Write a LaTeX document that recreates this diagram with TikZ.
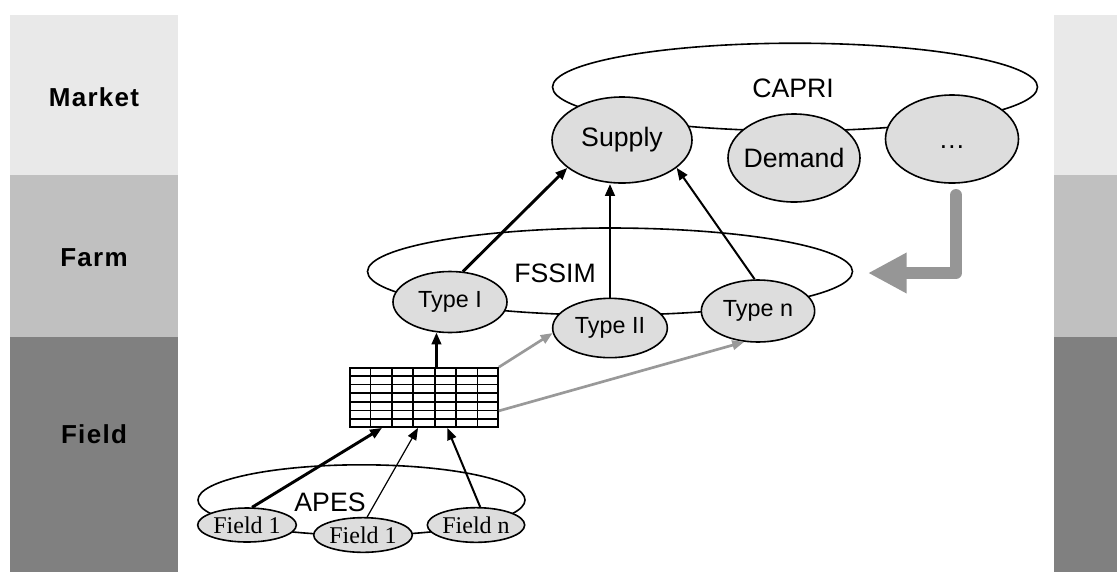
\documentclass[tikz,border=0pt]{standalone}
\usepackage{fontspec}
\setmainfont{Liberation Sans}
\newfontfamily\fieldfont{Liberation Serif}
\usetikzlibrary{shapes.geometric,arrows.meta,calc}
\definecolor{marketgrey}{RGB}{233,233,233}
\definecolor{farmgrey}{RGB}{192,192,192}
\definecolor{fieldgrey}{RGB}{128,128,128}
\definecolor{nodegrey}{RGB}{221,221,221}
\definecolor{linkgrey}{RGB}{153,153,153}
\definecolor{backgrey}{RGB}{150,150,150}
\tikzset{
  model/.style={draw, ellipse, line width=1.2pt, inner sep=0pt},
  part/.style={draw, ellipse, fill=nodegrey, line width=1.2pt, inner sep=0pt},
  level/.style={font=\bfseries\fontsize{19.5}{23}\selectfont\addfontfeature{LetterSpace=5}},
  title/.style={font=\fontsize{20}{24}\selectfont},
  link/.style={-{Triangle[length=9pt,width=7pt]}, line width=#1},
  greylink/.style={-{Triangle[length=9pt,width=7pt]}, line width=2pt, draw=linkgrey, fill=linkgrey},
}
\begin{document}
\begin{tikzpicture}[x=0.75pt,y=0.75pt,yscale=-1,xscale=1]
\useasboundingbox (0,0) rectangle (1117,572);
\fill[white] (0,0) rectangle (1117,572);

%Shape: level bands left
\fill[marketgrey] (10,15) rectangle (178,175);
\fill[farmgrey] (10,175) rectangle (178,337);
\fill[fieldgrey] (10,337) rectangle (178,572);
%Shape: level bands right
\fill[marketgrey] (1054,15) rectangle (1117,175);
\fill[farmgrey] (1054,175) rectangle (1117,337);
\fill[fieldgrey] (1054,337) rectangle (1117,572);

% Text Node
\node[level] (market) at (94,97) {Market};
% Text Node
\node[level] (farm) at (94,258) {Farm};
% Text Node
\node[level] (field) at (94,434) {Field};

%Shape: Ellipse models
\node[model, minimum width=363.75pt, minimum height=65.7pt] (capri) at (795,87) {};
\node[model, minimum width=363.75pt, minimum height=65.25pt] (fssim) at (610,271.5) {};
\node[model, minimum width=245.25pt, minimum height=52.8pt] (apes) at (361.5,500) {};

% Text Node
\node[title] (capritext) at (793,88) {CAPRI};
% Text Node
\node[title] (fssimtext) at (555,273) {FSSIM};
% Text Node
\node[title] (apestext) at (330,502) {APES};

%Shape: Ellipse parts of CAPRI
\node[part, title, minimum width=105pt, minimum height=64.5pt] (supply) at (622,140) {Supply};
\node[part, title, inner xsep=-3pt, minimum width=99pt, minimum height=66pt] (demand) at (794,158) {Demand};
\node[part, title, minimum width=99.75pt, minimum height=66pt] (dots) at (952,139) {\rule[-1.5pt]{0pt}{16.5pt}\dots};

%Shape: Ellipse parts of FSSIM
\node[part, font=\fontsize{17.5}{21}\selectfont, minimum width=85.5pt, minimum height=45.75pt] (typeI) at (450,302) {Type I};
\node[part, font=\fontsize{17.5}{21}\selectfont, minimum width=86pt, minimum height=44.5pt] (typeII) at (610,328) {Type II};
\node[part, font=\fontsize{17.5}{21}\selectfont, minimum width=85pt, minimum height=46.5pt] (typen) at (758,311) {Type n};

%Shape: Ellipse parts of APES
\node[part, font=\fieldfont\fontsize{18}{21}\selectfont, minimum width=74pt, minimum height=25.5pt] (fieldA) at (247,525) {Field 1};
\node[part, font=\fieldfont\fontsize{18}{21}\selectfont, minimum width=74pt, minimum height=26pt] (fieldB) at (363,535) {Field 1};
\node[part, font=\fieldfont\fontsize{18}{21}\selectfont, minimum width=73pt, minimum height=26pt] (fieldn) at (476,525) {Field n};

%Shape: Table
\node[draw, fill=white, line width=1.3pt, minimum width=111pt, minimum height=44.25pt, inner sep=0pt] (table) at (424,397.5) {};
\foreach \i in {1,...,6}
  \draw[line width=1.3pt] ($(table.north west)!{\i/7}!(table.north east)$) -- ($(table.south west)!{\i/7}!(table.south east)$);
\foreach \j in {1,...,6}
  \draw[line width=1.3pt] ($(table.north west)!{\j/7}!(table.south west)$) -- ($(table.north east)!{\j/7}!(table.south east)$);

%Straight Lines: farm types to supply
\draw[link=2.2pt] (typeI.67) -- (supply.207);
\draw[link=2.2pt] (typeII.north) -- (typeII.north |- supply.south);
\draw[link=1.5pt] (typen.96) -- (supply.333);

%Straight Lines: table to farm types
\draw[link=2.2pt] (table.north -| typeI.246) -- (typeI.246);
\draw[greylink] (table.north east) -- (typeII.185);
\draw[greylink] ($(table.north east)!0.72!(table.south east)$) -- (typen.246);

%Straight Lines: fields to table
\draw[link=2.2pt] (fieldA.74) -- ($(table.south west)!0.22!(table.south east)$);
\draw[link=0.9pt] (fieldB.77) -- ($(table.south west)!0.46!(table.south east)$);
\draw[link=1.5pt] (fieldn.77) -- ($(table.south west)!0.655!(table.south east)$);

%Shape: feedback arrow
\coordinate (backtop) at (956,195);
\coordinate (backtip) at (868,273);
\draw[backgrey, line width=9pt, line cap=round, line join=round, -{Triangle[length=29pt,width=28.5pt]}] (backtop) |- (backtip);

\end{tikzpicture}
\end{document}
